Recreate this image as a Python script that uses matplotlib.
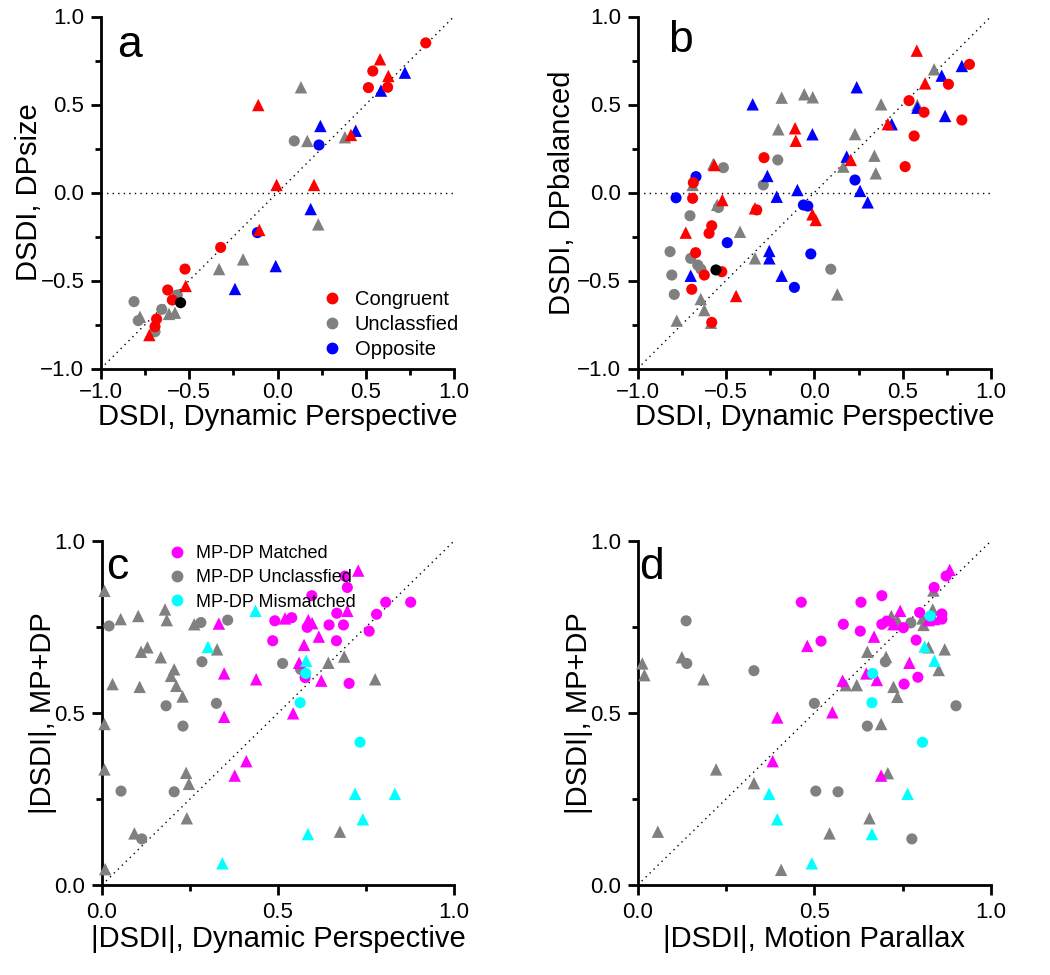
import matplotlib
matplotlib.use("Agg")
import matplotlib.pyplot as plt
from matplotlib.lines import Line2D
from matplotlib.ticker import MultipleLocator

plt.rcParams['font.family'] = ['Liberation Sans', 'DejaVu Sans']

RED, BLUE, GRAY, BLACK = '#ff0000', '#0000ff', '#808080', '#000000'
MAG, CYAN = '#ff00ff', '#00ffff'

# ---------------- panel a ----------------
a_red_circ = [(0.84,0.85),(0.54,0.69),(0.515,0.596),(0.624,0.598),(-0.322,-0.312),(-0.524,-0.435),
              (-0.622,-0.554),(-0.596,-0.611),(-0.685,-0.719),(-0.694,-0.762)]
a_red_tri = [(0.581,0.757),(0.628,0.662),(-0.109,0.497),(0.416,0.327),(-0.005,0.043),(0.207,0.043),
             (-0.103,-0.213),(-0.52,-0.531),(-0.726,-0.81)]
a_blue_circ = [(0.235,0.27),(-0.114,-0.228)]
a_blue_tri = [(0.722,0.681),(0.586,0.579),(0.243,0.378),(0.443,0.351),(0.188,-0.094),(-0.01,-0.418),(-0.241,-0.548)]
a_gray_circ = [(0.095,0.293),(-0.568,-0.582),(-0.813,-0.62),(-0.656,-0.664),(-0.789,-0.728),(-0.694,-0.791)]
a_gray_tri = [(0.133,0.598),(0.169,0.293),(0.382,0.314),(0.231,-0.181),(-0.195,-0.38),(-0.331,-0.435),
              (-0.615,-0.69),(-0.581,-0.683),(-0.779,-0.706)]
a_black_circ = [(-0.549,-0.626)]

# ---------------- panel b ----------------
b_red_circ = [(-0.285,0.198),(-0.685,0.056),(-0.689,-0.033),(-0.326,-0.099),(-0.581,-0.189),(-0.596,-0.232),
              (-0.672,-0.342),(-0.524,-0.45),(-0.623,-0.469),(-0.694,-0.55),(-0.581,-0.738),(0.878,0.728),
              (0.759,0.615),(0.536,0.522),(0.621,0.456),(0.835,0.412),(0.565,0.321),(0.514,0.147)]
b_red_tri = [(0.58,0.806),(0.627,0.62),(0.416,0.389),(0.206,0.185),(-0.109,0.365),(-0.105,0.294),
             (-0.566,0.156),(-0.521,-0.043),(-0.336,-0.09),(-0.011,-0.124),(0.008,-0.156),(-0.728,-0.228),
             (-0.443,-0.588)]
b_blue_circ = [(-0.67,0.09),(-0.783,-0.03),(-0.062,-0.071),(-0.037,-0.077),(-0.493,-0.285),(-0.02,-0.349),
               (-0.113,-0.539),(0.23,0.071)]
b_blue_tri = [(-0.349,0.501),(-0.011,0.331),(-0.266,0.094),(-0.096,0.014),(-0.213,-0.024),(0.835,0.719),
              (0.721,0.664),(0.24,0.598),(0.583,0.482),(0.74,0.435),(0.438,0.388),(0.183,0.204),(0.259,0.009),
              (0.302,-0.056),(-0.255,-0.332),(-0.255,-0.374),(-0.7,-0.473),(-0.185,-0.473)]
b_gray_circ = [(-0.207,0.185),(-0.515,0.141),(-0.289,0.043),(-0.704,-0.132),(-0.543,-0.085),(-0.817,-0.336),
               (-0.7,-0.374),(-0.66,-0.412),(-0.642,-0.436),(-0.807,-0.469),(-0.793,-0.579),(0.093,-0.436)]
b_gray_tri = [(-0.185,0.539),(-0.057,0.558),(-0.009,0.541),(-0.204,0.359),(-0.572,0.162),(-0.689,0.043),
              (0.678,0.7),(0.378,0.501),(0.583,0.497),(0.23,0.332),(0.164,0.147),(0.34,0.209),(0.348,0.109),
              (-0.55,-0.07),(-0.421,-0.223),(-0.336,-0.374),(-0.643,-0.605),(-0.623,-0.668),(-0.779,-0.728),
              (-0.585,-0.74),(0.13,-0.579)]
b_black_circ = [(-0.557,-0.44)]

# ---------------- panel c ----------------
c_mag_circ = [(0.491,0.768),(0.539,0.777),(0.485,0.71),(0.69,0.898),(0.697,0.865),(0.596,0.841),(0.806,0.822),
              (0.877,0.822),(0.78,0.787),(0.667,0.79),(0.583,0.749),(0.645,0.756),(0.686,0.756),(0.759,0.738),
              (0.666,0.71),(0.577,0.603),(0.702,0.586)]
c_mag_tri = [(0.332,0.76),(0.52,0.775),(0.347,0.615),(0.438,0.598),(0.347,0.489),(0.543,0.499),(0.728,0.914),
             (0.697,0.797),(0.586,0.77),(0.597,0.761),(0.616,0.722),(0.574,0.698),(0.56,0.646),(0.623,0.594),
             (0.41,0.36),(0.377,0.318)]
c_cyan_circ = [(0.579,0.615),(0.563,0.53),(0.733,0.415)]
c_cyan_tri = [(0.436,0.797),(0.301,0.692),(0.58,0.652),(0.719,0.265),(0.832,0.265),(0.741,0.191),
              (0.585,0.148),(0.342,0.063)]
c_gray_circ = [(0.02,0.753),(0.281,0.763),(0.357,0.77),(0.284,0.649),(0.513,0.644),(0.182,0.521),(0.325,0.528),
               (0.564,0.627),(0.23,0.462),(0.054,0.273),(0.205,0.271),(0.113,0.134)]
c_gray_tri = [(0.007,0.855),(0.053,0.773),(0.103,0.782),(0.179,0.801),(0.184,0.77),(0.262,0.758),(0.111,0.678),
              (0.129,0.691),(0.167,0.662),(0.327,0.685),(0.205,0.627),(0.196,0.608),(0.03,0.584),(0.107,0.576),
              (0.211,0.579),(0.229,0.548),(0.643,0.646),(0.688,0.664),(0.776,0.598),(0.007,0.468),(0.007,0.336),
              (0.239,0.326),(0.247,0.294),(0.241,0.194),(0.092,0.15),(0.676,0.155),(0.009,0.046)]

# ---------------- panel d ----------------
d_mag_circ = [(0.463,0.822),(0.519,0.709),(0.873,0.898),(0.839,0.865),(0.691,0.841),(0.632,0.822),(0.798,0.792),
              (0.861,0.788),(0.861,0.773),(0.752,0.748),(0.705,0.767),(0.691,0.758),(0.582,0.758),(0.63,0.738),
              (0.788,0.712),(0.793,0.604),(0.754,0.584)]
d_mag_tri = [(0.48,0.695),(0.395,0.487),(0.883,0.916),(0.743,0.797),(0.823,0.77),(0.839,0.773),(0.724,0.758),
             (0.669,0.722),(0.769,0.646),(0.647,0.615),(0.677,0.596),(0.58,0.594),(0.551,0.502),(0.382,0.36),
             (0.689,0.318)]
d_cyan_circ = [(0.828,0.782),(0.665,0.615),(0.663,0.53),(0.806,0.415)]
d_cyan_tri = [(0.812,0.693),(0.84,0.652),(0.372,0.265),(0.764,0.265),(0.395,0.191),(0.663,0.148),(0.493,0.063)]
d_gray_circ = [(0.137,0.768),(0.139,0.644),(0.329,0.623),(0.5,0.528),(0.773,0.762),(0.701,0.649),(0.901,0.521),
               (0.65,0.462),(0.504,0.273),(0.567,0.271),(0.776,0.134)]
d_gray_tri = [(0.013,0.644),(0.019,0.61),(0.125,0.662),(0.186,0.598),(0.837,0.856),(0.718,0.782),(0.835,0.801),
              (0.806,0.775),(0.809,0.756),(0.735,0.77),(0.823,0.691),(0.869,0.685),(0.65,0.678),(0.703,0.663),
              (0.852,0.625),(0.589,0.581),(0.62,0.581),(0.724,0.576),(0.735,0.547),(0.689,0.468),(0.222,0.336),
              (0.329,0.296),(0.708,0.325),(0.656,0.194),(0.057,0.155),(0.543,0.15),(0.406,0.044)]

legend_top = ['Congruent', 'Unclassfied', 'Opposite']
legend_bottom = ['MP-DP Matched', 'MP-DP Unclassfied', 'MP-DP Mismatched']

fig = plt.figure(figsize=(10.5, 9.75), dpi=100)
W, H = 1050, 975

def make_ax(x0, x1, ytop, ybot):
    return fig.add_axes([x0 / W, 1 - ybot / H, (x1 - x0) / W, (ybot - ytop) / H])

axA = make_ax(101, 454, 16.5, 368.5)
axB = make_ax(637.7, 991, 16.5, 368.5)
axC = make_ax(102, 454, 541, 885)
axD = make_ax(637.7, 991, 541, 885)

MS_C = 64
MS_T = 80

def scatter(ax, pts, color, marker):
    if not pts:
        return
    xs = [p[0] for p in pts]
    ys = [p[1] for p in pts]
    ax.scatter(xs, ys, s=(MS_C if marker == 'o' else MS_T), c=color, marker=marker,
               edgecolors='none', zorder=3, clip_on=False)

def style(ax, lo, hi, major, minor, xpad=5):
    ax.set_xlim(lo, hi)
    ax.set_ylim(lo, hi)
    for s in ['top', 'right']:
        ax.spines[s].set_visible(False)
    for s in ['left', 'bottom']:
        ax.spines[s].set_linewidth(2.0)
    ax.xaxis.set_major_locator(MultipleLocator(major))
    ax.yaxis.set_major_locator(MultipleLocator(major))
    ax.xaxis.set_minor_locator(MultipleLocator(minor))
    ax.yaxis.set_minor_locator(MultipleLocator(minor))
    ax.tick_params(which='major', direction='out', length=7, width=2, labelsize=16, pad=5)
    ax.tick_params(axis='x', which='major', pad=xpad)
    ax.tick_params(which='minor', direction='out', length=4, width=2)
    ax.plot([lo, hi], [lo, hi], ls=(0, (1, 3)), color='k', lw=1.0, zorder=1)

def fmt_ticks(ax, vals):
    ax.set_xticks(vals)
    ax.set_yticks(vals)
    labs = [('\u2212%.1f' % abs(v)) if v < 0 else '%.1f' % v for v in vals]
    ax.set_xticklabels(labs)
    ax.set_yticklabels(labs)

# panel a
style(axA, -1, 1, 0.5, 0.25, xpad=3)
axA.axhline(0, ls=(0, (1, 3)), color='k', lw=1.0, zorder=1)
fmt_ticks(axA, [-1.0, -0.5, 0.0, 0.5, 1.0])
scatter(axA, a_gray_circ, GRAY, 'o'); scatter(axA, a_gray_tri, GRAY, '^')
scatter(axA, a_blue_circ, BLUE, 'o'); scatter(axA, a_blue_tri, BLUE, '^')
scatter(axA, a_red_circ, RED, 'o'); scatter(axA, a_red_tri, RED, '^')
scatter(axA, a_black_circ, BLACK, 'o')
axA.set_xlabel('DSDI, Dynamic Perspective', fontsize=21, labelpad=0)
axA.set_ylabel('DSDI, DPsize', fontsize=21, labelpad=-2)
axA.text(0.082, 0.919, 'a', transform=axA.transAxes, fontsize=32, va='center', ha='center')
hA = [Line2D([], [], marker='o', ls='none', color=c, markersize=7.5) for c in (RED, GRAY, BLUE)]
axA.legend(hA, legend_top, loc='lower right', bbox_to_anchor=(1.065, -0.025), frameon=False,
           fontsize=14.5, handletextpad=0.5, labelspacing=0.3, handlelength=1.2)

# panel b
style(axB, -1, 1, 0.5, 0.25, xpad=3)
axB.axhline(0, ls=(0, (1, 3)), color='k', lw=1.0, zorder=1)
fmt_ticks(axB, [-1.0, -0.5, 0.0, 0.5, 1.0])
scatter(axB, b_gray_circ, GRAY, 'o'); scatter(axB, b_gray_tri, GRAY, '^')
scatter(axB, b_blue_circ, BLUE, 'o'); scatter(axB, b_blue_tri, BLUE, '^')
scatter(axB, b_red_circ, RED, 'o'); scatter(axB, b_red_tri, RED, '^')
scatter(axB, b_black_circ, BLACK, 'o')
axB.set_xlabel('DSDI, Dynamic Perspective', fontsize=21, labelpad=0)
axB.set_ylabel('DSDI, DPbalanced', fontsize=21, labelpad=1)
axB.text(0.12, 0.933, 'b', transform=axB.transAxes, fontsize=32, va='center', ha='center')

# panel c
style(axC, 0, 1, 0.5, 0.25)
fmt_ticks(axC, [0.0, 0.5, 1.0])
scatter(axC, c_gray_circ, GRAY, 'o'); scatter(axC, c_gray_tri, GRAY, '^')
scatter(axC, c_mag_circ, MAG, 'o'); scatter(axC, c_mag_tri, MAG, '^')
scatter(axC, c_cyan_circ, CYAN, 'o'); scatter(axC, c_cyan_tri, CYAN, '^')
axC.set_xlabel('|DSDI|, Dynamic Perspective', fontsize=21, labelpad=2)
axC.set_ylabel('|DSDI|, MP+DP', fontsize=21, labelpad=-2)
axC.text(0.043, 0.924, 'c', transform=axC.transAxes, fontsize=32, va='center', ha='center')
hC = [Line2D([], [], marker='o', ls='none', color=c, markersize=7.5) for c in (MAG, GRAY, CYAN)]
axC.legend(hC, legend_bottom, loc='upper left', bbox_to_anchor=(0.135, 1.035), frameon=False,
           fontsize=13, handletextpad=0.5, labelspacing=0.4, handlelength=1.2)

# panel d
style(axD, 0, 1, 0.5, 0.25)
fmt_ticks(axD, [0.0, 0.5, 1.0])
scatter(axD, d_gray_circ, GRAY, 'o'); scatter(axD, d_gray_tri, GRAY, '^')
scatter(axD, d_mag_circ, MAG, 'o'); scatter(axD, d_mag_tri, MAG, '^')
scatter(axD, d_cyan_circ, CYAN, 'o'); scatter(axD, d_cyan_tri, CYAN, '^')
axD.set_xlabel('|DSDI|, Motion Parallax', fontsize=21, labelpad=2)
axD.set_ylabel('|DSDI|, MP+DP', fontsize=21, labelpad=-2)
axD.text(0.04, 0.924, 'd', transform=axD.transAxes, fontsize=32, va='center', ha='center')

fig.savefig('out.png', dpi=100)
